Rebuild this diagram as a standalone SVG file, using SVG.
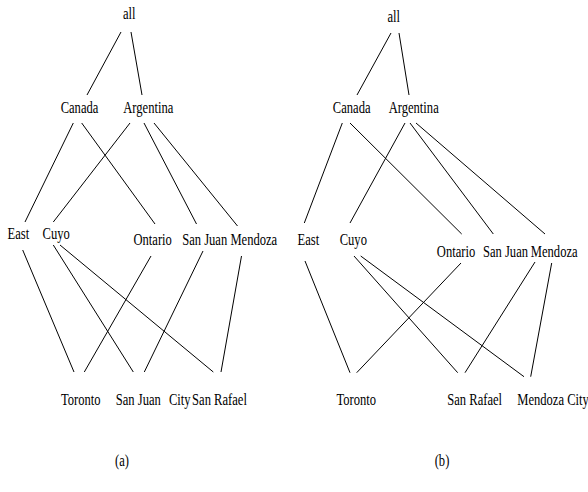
<svg xmlns="http://www.w3.org/2000/svg" width="588" height="492" viewBox="0 0 588 492">
<style>
text{font-family:"Liberation Serif","Times New Roman",serif;font-size:17px;fill:#000;text-anchor:middle}
.e line{stroke:#000;stroke-width:1;fill:none}
</style>
<rect width="588" height="492" fill="#fff"/>
<g id="fig-a">
<g class="e" id="edges-a">
<line x1="121" y1="32" x2="87" y2="95"/>
<line x1="131" y1="32" x2="142" y2="95"/>
<line x1="73.3" y1="123" x2="25" y2="222"/>
<line x1="81.7" y1="123" x2="155" y2="224"/>
<line x1="130" y1="123" x2="53.3" y2="222"/>
<line x1="144" y1="123" x2="196.5" y2="224"/>
<line x1="154" y1="123" x2="237.5" y2="226"/>
<line x1="22.7" y1="250" x2="74" y2="372"/>
<line x1="53.3" y1="245" x2="133.3" y2="372"/>
<line x1="60" y1="245" x2="213.3" y2="372"/>
<line x1="151" y1="256" x2="84.3" y2="372"/>
<line x1="203" y1="251" x2="144.3" y2="372"/>
<line x1="241.5" y1="256" x2="221" y2="372"/>
</g>
<g id="a-all"><text transform="translate(129.3,19) scale(0.74,1)">all</text></g>
<g id="a-canada"><text transform="translate(79.5,113) scale(0.74,1)">Canada</text></g>
<g id="a-argentina"><text transform="translate(148.3,113) scale(0.74,1)">Argentina</text></g>
<g id="a-east"><text transform="translate(18.3,239) scale(0.74,1)">East</text></g>
<g id="a-cuyo"><text transform="translate(56.2,239) scale(0.74,1)">Cuyo</text></g>
<g id="a-ontario"><text transform="translate(152.7,245) scale(0.74,1)">Ontario</text></g>
<g id="a-sanjuan"><text transform="translate(204.7,245) scale(0.74,1)">San Juan</text></g>
<g id="a-mendoza"><text transform="translate(253.8,245) scale(0.74,1)">Mendoza</text></g>
<g id="a-toronto"><text transform="translate(80.7,405) scale(0.74,1)">Toronto</text></g>
<g id="a-sanjuancity"><text transform="translate(138.3,405) scale(0.74,1)">San Juan<tspan x="56" text-anchor="middle">City</tspan></text></g>
<g id="a-sanrafael"><text transform="translate(219.5,405) scale(0.74,1)">San Rafael</text></g>
<text id="label-a" transform="translate(122,466) scale(0.74,1)">(a)</text>
</g>
<g id="fig-b">
<g class="e" id="edges-b">
<line x1="391" y1="33" x2="357" y2="95"/>
<line x1="399" y1="33" x2="409" y2="95"/>
<line x1="342.3" y1="123" x2="304.3" y2="223"/>
<line x1="350" y1="123" x2="461.7" y2="234"/>
<line x1="405" y1="123" x2="350" y2="223"/>
<line x1="410" y1="123" x2="493.3" y2="234"/>
<line x1="416" y1="123" x2="545" y2="234"/>
<line x1="305" y1="261" x2="350" y2="372.7"/>
<line x1="354" y1="256" x2="457.7" y2="372.7"/>
<line x1="360.7" y1="256" x2="524" y2="376.7"/>
<line x1="461" y1="263" x2="356.7" y2="372.7"/>
<line x1="535" y1="262" x2="465" y2="372.7"/>
<line x1="551.7" y1="263" x2="530.7" y2="376.7"/>
</g>
<g id="b-all"><text transform="translate(393.7,22) scale(0.74,1)">all</text></g>
<g id="b-canada"><text transform="translate(351.7,113) scale(0.74,1)">Canada</text></g>
<g id="b-argentina"><text transform="translate(413.7,113) scale(0.74,1)">Argentina</text></g>
<g id="b-east"><text transform="translate(308.3,245) scale(0.74,1)">East</text></g>
<g id="b-cuyo"><text transform="translate(353.3,245) scale(0.74,1)">Cuyo</text></g>
<g id="b-ontario"><text transform="translate(456,256.7) scale(0.74,1)">Ontario</text></g>
<g id="b-sanjuan"><text transform="translate(505.5,256.7) scale(0.74,1)">San Juan</text></g>
<g id="b-mendoza"><text transform="translate(554.2,256.7) scale(0.74,1)">Mendoza</text></g>
<g id="b-toronto"><text transform="translate(356.3,405) scale(0.74,1)">Toronto</text></g>
<g id="b-sanrafael"><text transform="translate(474.7,405) scale(0.74,1)">San Rafael</text></g>
<g id="b-mendozacity"><text transform="translate(553,405) scale(0.74,1)">Mendoza City</text></g>
<text id="label-b" transform="translate(442,466) scale(0.74,1)">(b)</text>
</g>
</svg>
